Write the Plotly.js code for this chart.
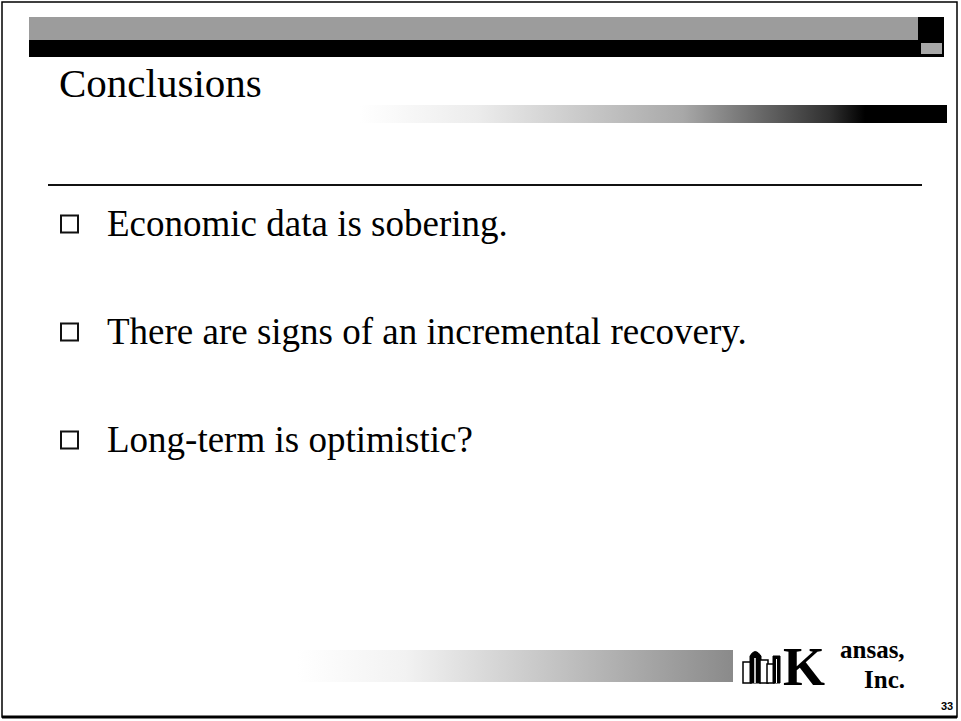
<!DOCTYPE html>
<html>
<head>
<meta charset="utf-8">
<script src="https://cdn.plot.ly/plotly-3.0.1.min.js"></script>
<style>
  html, body { margin: 0; padding: 0; background: #ffffff; }
  #chart { width: 961px; height: 721px; }
</style>
</head>
<body>
<div id="chart"></div>
<script>
// ---- content ----
const titleText = "Conclusions";
const bulletTexts = [
  "Economic data is sobering.",
  "There are signs of an incremental recovery.",
  "Long-term is optimistic?"
];
const logoBig = "K";
const logoTop = "ansas,";
const logoBottom = "Inc.";
const pageNumber = "33";

// ---- layout geometry (page pixels) ----
const W = 961, H = 721;
const bulletX = 69.5, textX = 105;
const firstBulletY = 224, bulletStep = 108;
const serif = "Liberation Serif, Times New Roman, serif";

const bulletY = bulletTexts.map((_, i) => firstBulletY + i * bulletStep);

const traces = [];

// gradient bar under title
traces.push({
  x: [360, 947, 947, 360, 360], y: [105, 105, 123, 123, 105],
  mode: 'lines', fill: 'toself', line: {width: 0, color: 'rgba(0,0,0,0)'},
  fillgradient: {type: 'horizontal', colorscale: [[0, '#ffffff'], [0.2, '#ececec'], [0.55, '#a8a8a8'], [0.8, '#303030'], [0.86, '#000000'], [1, '#000000']]},
  hoverinfo: 'skip', showlegend: false
});
// gradient bar at bottom
traces.push({
  x: [297, 733, 733, 297, 297], y: [650, 650, 682, 682, 650],
  mode: 'lines', fill: 'toself', line: {width: 0, color: 'rgba(0,0,0,0)'},
  fillgradient: {type: 'horizontal', colorscale: [[0, '#ffffff'], [0.25, '#f2f2f2'], [0.6, '#c2c2c2'], [1, '#8a8a8a']]},
  hoverinfo: 'skip', showlegend: false
});
// bullet squares
traces.push({
  x: bulletY.map(() => bulletX), y: bulletY,
  mode: 'markers',
  marker: {symbol: 'square-open', size: 17, color: '#111111', line: {width: 2, color: '#111111'}},
  hoverinfo: 'skip', showlegend: false
});

const shapes = [
  // page frame
  {type: 'rect', x0: 2, y0: 2, x1: 957, y1: 717, line: {color: '#000', width: 1.5}},
  {type: 'line', x0: 2, y0: 717, x1: 957, y1: 717, line: {color: '#000', width: 3}},
  // top banner
  {type: 'rect', x0: 29, y0: 17, x1: 944, y1: 57, fillcolor: '#000', line: {width: 0}},
  {type: 'rect', x0: 29, y0: 17, x1: 918, y1: 40, fillcolor: '#9c9c9c', line: {width: 0}},
  {type: 'rect', x0: 921, y0: 43, x1: 942, y1: 54, fillcolor: '#a8a8a8', line: {width: 0}},
  // rule under title
  {type: 'line', x0: 48, y0: 185, x1: 922, y1: 185, line: {color: '#111', width: 2}},
  // building icon of logo
  {type: 'rect', x0: 743, y0: 662, x1: 751, y1: 683, fillcolor: '#fff', line: {color: '#000', width: 1.5}},
  {type: 'path', path: 'M 750 683 L 750 656 Q 755 647 761 656 L 761 683 Z', fillcolor: '#000', line: {color: '#000', width: 1}},
  {type: 'line', x0: 755, y0: 658, x1: 755, y1: 683, line: {color: '#fff', width: 1.5}},
  {type: 'rect', x0: 760, y0: 660, x1: 768, y1: 683, fillcolor: '#fff', line: {color: '#000', width: 1.5}},
  {type: 'rect', x0: 767, y0: 664, x1: 774, y1: 683, fillcolor: '#fff', line: {color: '#000', width: 1.5}},
  {type: 'rect', x0: 773, y0: 656, x1: 780, y1: 683, fillcolor: '#000', line: {color: '#000', width: 1}},
  {type: 'line', x0: 776.5, y0: 659, x1: 776.5, y1: 683, line: {color: '#fff', width: 1}}
];

const annotations = [
  {x: 57, y: 83, xref: 'x', yref: 'y', xanchor: 'left', yanchor: 'middle', showarrow: false,
   text: titleText, font: {family: serif, size: 41, color: '#000'}},
  ...bulletTexts.map((t, i) => ({
    x: textX, y: bulletY[i] - 1, xref: 'x', yref: 'y', xanchor: 'left', yanchor: 'middle', showarrow: false,
    text: t, font: {family: serif, size: 37, color: '#000'}
  })),
  {x: 781, y: 667, xref: 'x', yref: 'y', xanchor: 'left', yanchor: 'middle', showarrow: false,
   text: '<b>' + logoBig + '</b>', font: {family: serif, size: 54, color: '#000'}},
  {x: 906, y: 649, xref: 'x', yref: 'y', xanchor: 'right', yanchor: 'middle', showarrow: false,
   text: '<b>' + logoTop + '</b>', font: {family: serif, size: 25, color: '#000'}, borderpad: 0},
  {x: 906, y: 679, xref: 'x', yref: 'y', xanchor: 'right', yanchor: 'middle', showarrow: false,
   text: '<b>' + logoBottom + '</b>', font: {family: serif, size: 25, color: '#000'}, borderpad: 0},
  {x: 955, y: 706, xref: 'x', yref: 'y', xanchor: 'right', yanchor: 'middle', showarrow: false,
   text: '<b>' + pageNumber + '</b>', font: {family: 'Liberation Sans, Arial, sans-serif', size: 11, color: '#000'}}
];

const layout = {
  width: W, height: H,
  margin: {l: 0, r: 0, t: 0, b: 0},
  paper_bgcolor: '#ffffff', plot_bgcolor: '#ffffff',
  xaxis: {range: [0, W], visible: false, fixedrange: true},
  yaxis: {range: [H, 0], visible: false, fixedrange: true},
  shapes: shapes, annotations: annotations, showlegend: false
};

Plotly.newPlot('chart', traces, layout, {staticPlot: true, displayModeBar: false});
</script>
</body>
</html>
